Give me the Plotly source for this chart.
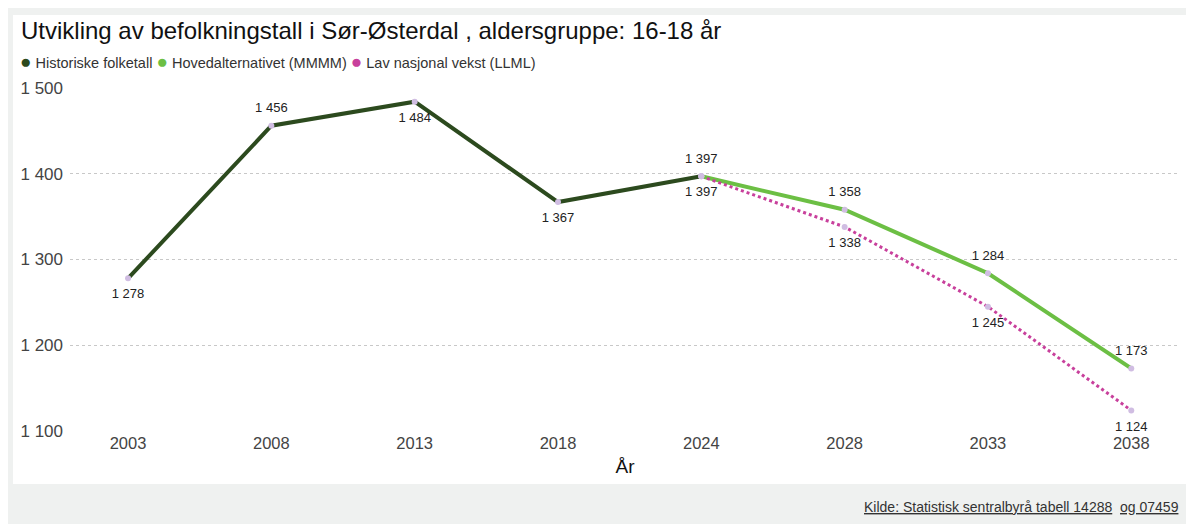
import plotly.graph_objects as go

years = ["2003", "2008", "2013", "2018", "2024", "2028", "2033", "2038"]
hist_idx = [0, 1, 2, 3, 4]
hist_vals = [1278, 1456, 1484, 1367, 1397]
hist_pos = ["bottom center", "top center", "bottom center", "bottom center", "top center"]
proj_idx = [4, 5, 6, 7]
main_vals = [1397, 1358, 1284, 1173]
low_vals = [1397, 1338, 1245, 1124]
y_ticks = [1100, 1200, 1300, 1400, 1500]

C_HIST = "#2c4a1e"
C_MAIN = "#6cbf44"
C_LOW = "#c8409c"
C_DOT = "#d0bde2"
FONT = "Liberation Sans, Arial, sans-serif"

def fmt(v):
    return f"{v:,}".replace(",", " ")

# page body adds an 8px margin; figure coordinates = screen - 8
W, H = 1186, 516
L, R, T, B = 62, 14, 80, 93
pw, ph = W - L - R, H - T - B

def px_x(px):
    return (px - L) / pw

def px_y(py):
    return (H - B - py) / ph

fig = go.Figure()

fig.add_trace(go.Scatter(x=proj_idx, y=main_vals, mode="lines",
                         line=dict(color=C_MAIN, width=4)))
fig.add_trace(go.Scatter(x=proj_idx, y=low_vals, mode="lines",
                         line=dict(color=C_LOW, width=3, dash="dot")))
fig.add_trace(go.Scatter(x=hist_idx, y=hist_vals, mode="lines",
                         line=dict(color=C_HIST, width=4)))

for xs, ys in [(hist_idx, hist_vals), (proj_idx, main_vals), (proj_idx, low_vals)]:
    fig.add_trace(go.Scatter(x=xs, y=ys, mode="markers",
                             marker=dict(color=C_DOT, size=6)))

lab_font = dict(family=FONT, size=13, color="#222222")
fig.add_trace(go.Scatter(x=hist_idx, y=hist_vals, mode="markers+text",
                         text=[fmt(v) for v in hist_vals], textposition=hist_pos,
                         textfont=lab_font, marker=dict(size=15, opacity=0)))
fig.add_trace(go.Scatter(x=proj_idx[1:], y=main_vals[1:], mode="markers+text",
                         text=[fmt(v) for v in main_vals[1:]], textposition="top center",
                         textfont=lab_font, marker=dict(size=15, opacity=0)))
fig.add_trace(go.Scatter(x=proj_idx, y=low_vals, mode="markers+text",
                         text=[fmt(v) for v in low_vals], textposition="bottom center",
                         textfont=lab_font, marker=dict(size=15, opacity=0)))

shapes = [
    dict(type="rect", xref="paper", yref="paper", layer="below",
         x0=px_x(5), x1=px_x(1184), y0=px_y(476), y1=px_y(7),
         fillcolor="#ffffff", line=dict(width=0)),
]

def dot(c):
    return f"<span style='color:{c};font-size:19px'>●</span> "

annotations = [
    dict(text="Utvikling av befolkningstall i Sør-Østerdal , aldersgruppe: 16-18 år",
         xref="paper", yref="paper", x=px_x(11), y=px_y(23), xanchor="left", yanchor="middle",
         showarrow=False, font=dict(family=FONT, size=24, color="#111111")),
    dict(text=(f"{dot(C_HIST)}Historiske folketall "
               f"{dot(C_MAIN)}Hovedalternativet (MMMM) "
               f"{dot(C_LOW)}Lav nasjonal vekst (LLML)"),
         xref="paper", yref="paper", x=px_x(10), y=px_y(53), xanchor="left", yanchor="middle",
         showarrow=False, font=dict(family=FONT, size=14.5, color="#333333")),
    dict(text="<u>Kilde: Statistisk sentralbyrå tabell 14288</u>  <u>og 07459</u>",
         xref="paper", yref="paper", x=px_x(1173), y=px_y(499), xanchor="right", yanchor="middle",
         showarrow=False, font=dict(family=FONT, size=14, color="#333333")),
]

fig.update_layout(
    width=W, height=H,
    margin=dict(l=L, r=R, t=T, b=B),
    paper_bgcolor="#eff1f0", plot_bgcolor="rgba(0,0,0,0)",
    showlegend=False,
    shapes=shapes, annotations=annotations,
    font=dict(family=FONT),
    xaxis=dict(tickmode="array", tickvals=list(range(len(years))), ticktext=years,
               range=[-0.405, 7.34], showgrid=False, zeroline=False, showline=False,
               tickfont=dict(family=FONT, size=16.5, color="#444444"), ticks="",
               title=dict(text="År", font=dict(family=FONT, size=19, color="#111111"), standoff=9)),
    yaxis=dict(range=[1100, 1500], tickvals=y_ticks, ticktext=[fmt(v) for v in y_ticks],
               showgrid=True, gridcolor="#c8c8c8", griddash="dot", gridwidth=1.2,
               zeroline=False, showline=False, ticks="", ticklabelstandoff=6,
               tickfont=dict(family=FONT, size=17, color="#444444")),
)
for tr in fig.data:
    tr.update(cliponaxis=False, hoverinfo="skip")

fig.write_html("out.html")
